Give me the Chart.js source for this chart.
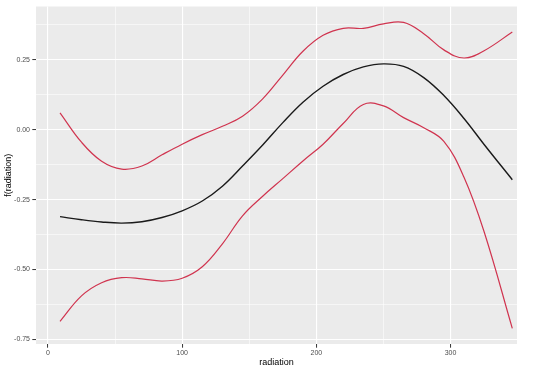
<!DOCTYPE html>
<html>
<head>
<meta charset="utf-8">
<script src="https://cdn.jsdelivr.net/npm/chart.js@4"></script>
<style>
  html, body { margin: 0; padding: 0; background: #fff; }
  #wrap { width: 540px; height: 372px; }
</style>
</head>
<body>
<div id="wrap"><canvas id="smoothChart" width="540" height="372"></canvas></div>
<script>
// values
const radiation = [9, 25, 40, 55, 70, 85, 100, 115, 130, 145, 160, 175, 190, 205, 220, 235, 250, 265, 280, 295, 310, 325, 346];
const fitValues = [-0.311, -0.322, -0.330, -0.334, -0.329, -0.314, -0.290, -0.255, -0.202, -0.130, -0.055, 0.025, 0.098, 0.155, 0.197, 0.224, 0.235, 0.226, 0.186, 0.122, 0.040, -0.053, -0.179];
const upperValues = [0.060, -0.045, -0.113, -0.141, -0.130, -0.090, -0.052, -0.018, 0.012, 0.048, 0.110, 0.195, 0.280, 0.337, 0.362, 0.362, 0.378, 0.383, 0.343, 0.285, 0.256, 0.282, 0.349];
const lowerValues = [-0.685, -0.594, -0.547, -0.529, -0.533, -0.541, -0.531, -0.490, -0.408, -0.308, -0.238, -0.175, -0.112, -0.052, 0.022, 0.090, 0.085, 0.043, 0.007, -0.042, -0.170, -0.365, -0.710];

const xTicks = [0, 100, 200, 300];
const xMinor = [50, 150, 250];
const yTicks = [-0.75, -0.50, -0.25, 0.00, 0.25];
const yMinor = [-0.625, -0.375, -0.125, 0.125, 0.375];

const toPoints = vals => radiation.map((r, i) => ({ x: r, y: vals[i] }));

const panelBg = {
  id: 'panelBg',
  beforeDraw(chart) {
    const { ctx, chartArea: a } = chart;
    ctx.save();
    ctx.fillStyle = '#EBEBEB';
    ctx.fillRect(a.left, a.top, a.right - a.left, a.bottom - a.top);
    ctx.restore();
  }
};

function setTicks(major, minor) {
  return scale => {
    scale.ticks = major.concat(minor).sort((a, b) => a - b)
      .map(v => ({ value: v, major: major.includes(v) }));
  };
}

const isMajor = ctx => ctx.tick && ctx.tick.major;

function lineSet(vals, color, width) {
  return {
    data: toPoints(vals),
    borderColor: color,
    borderWidth: width,
    pointRadius: 0,
    fill: false,
    tension: 0.4
  };
}

new Chart(document.getElementById('smoothChart').getContext('2d'), {
  type: 'line',
  data: {
    datasets: [
      lineSet(upperValues, '#D0344F', 1.2),
      lineSet(lowerValues, '#D0344F', 1.2),
      lineSet(fitValues, '#1a1a1a', 1.4)
    ]
  },
  options: {
    responsive: false,
    animation: false,
    layout: { padding: { top: 5, right: 23, left: 0, bottom: 0 } },
    plugins: { legend: { display: false }, tooltip: { enabled: false } },
    scales: {
      x: {
        type: 'linear',
        min: -8.9,
        max: 349.5,
        afterBuildTicks: setTicks(xTicks, xMinor),
        afterFit: s => { s.height = 28; },
        border: { display: false },
        grid: {
          color: '#ffffff',
          lineWidth: c => isMajor(c) ? 1.1 : 0.55,
          tickLength: 3.7,
          tickColor: c => isMajor(c) ? '#333333' : 'rgba(0,0,0,0)',
          tickWidth: 1
        },
        ticks: {
          autoSkip: false,
          maxRotation: 0,
          padding: 1,
          color: '#4D4D4D',
          font: { family: 'Liberation Sans', size: 7 },
          callback: v => xTicks.includes(v) ? String(v) : ''
        },
        title: {
          display: true,
          text: 'radiation',
          color: '#000000',
          font: { family: 'Liberation Sans', size: 9 },
          padding: { top: 0, bottom: 4.3 }
        }
      },
      y: {
        type: 'linear',
        min: -0.766,
        max: 0.44,
        afterBuildTicks: setTicks(yTicks, yMinor),
        afterFit: s => { s.width = 36; },
        border: { display: false },
        grid: {
          color: '#ffffff',
          lineWidth: c => isMajor(c) ? 1.1 : 0.55,
          tickLength: 3.7,
          tickColor: c => isMajor(c) ? '#333333' : 'rgba(0,0,0,0)',
          tickWidth: 1
        },
        ticks: {
          autoSkip: false,
          padding: 2.3,
          color: '#4D4D4D',
          font: { family: 'Liberation Sans', size: 7 },
          callback: v => yTicks.includes(v) ? v.toFixed(2) : ''
        },
        title: {
          display: true,
          text: 'f(radiation)',
          color: '#000000',
          font: { family: 'Liberation Sans', size: 9 },
          padding: { top: 3.6, bottom: 0 }
        }
      }
    }
  },
  plugins: [panelBg]
});
</script>
</body>
</html>
